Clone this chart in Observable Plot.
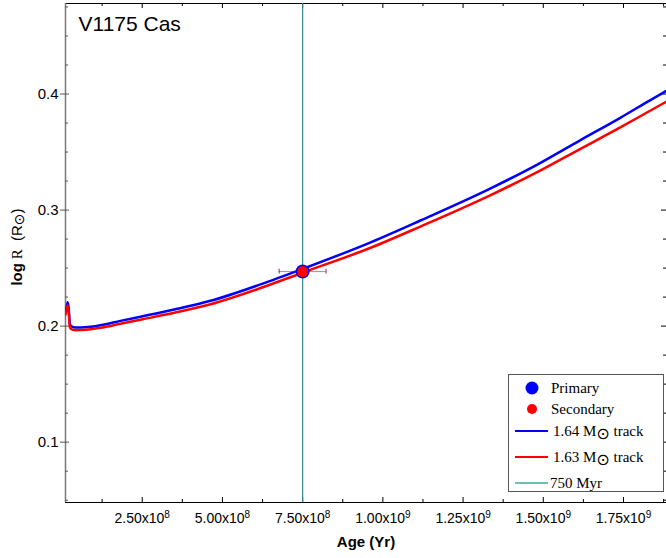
<!DOCTYPE html>
<html>
<head>
<meta charset="utf-8">
<script src="https://cdn.jsdelivr.net/npm/d3@7"></script>
<script src="https://cdn.jsdelivr.net/npm/@observablehq/plot@0.6"></script>
<style>
  body { margin: 0; background: white; }
  #wrap { position: relative; width: 666px; height: 558px; }
</style>
</head>
<body>
<div id="wrap"></div>
<script>
// ---- data ----
const ages = [1.1e7, 1.5e7, 1.8e7, 2.1e7, 2.4e7, 2.8e7, 4e7, 6e7, 9e7, 1.2e8, 1.82e8, 2.48e8, 3.5e8, 4.63e8, 6.19e8, 7.47e8, 9.62e8, 1.117e9, 1.336e9, 1.49e9, 1.616e9, 1.74e9, 1.834e9, 1.884e9];
const logR164 = [0.212, 0.217, 0.2205, 0.215, 0.203, 0.2, 0.1988, 0.1988, 0.1995, 0.2008, 0.2045, 0.2083, 0.2143, 0.2218, 0.236, 0.249, 0.2722, 0.291, 0.3187, 0.3405, 0.3603, 0.3795, 0.3948, 0.4027];
const logR163 = [0.210, 0.215, 0.218, 0.212, 0.200, 0.1975, 0.1965, 0.1966, 0.1973, 0.1985, 0.202, 0.2057, 0.2115, 0.2188, 0.2328, 0.2458, 0.2675, 0.2858, 0.3129, 0.334, 0.3528, 0.3712, 0.3858, 0.3935];
const starAge = [7.5e8, 7.5e8];
const starLogR = [0.247, 0.247];
const starNames = ["Primary", "Secondary"];
const ageErr = [7.3e7, 7.3e7];
const logRErr = [0.002, 0.002];
const isochroneAge = [7.5e8];
const xMajor = [2.5e8, 5e8, 7.5e8, 1e9, 1.25e9, 1.5e9, 1.75e9];
const xMinor = [1.25e8, 3.75e8, 6.25e8, 8.75e8, 1.125e9, 1.375e9, 1.625e9, 1.875e9];
const yMajor = [0.1, 0.2, 0.3, 0.4];
const yMinor = [0.05, 0.075, 0.125, 0.15, 0.175, 0.225, 0.25, 0.275, 0.325, 0.35, 0.375, 0.425, 0.45, 0.475];
const legendLabels = ["Primary", "Secondary", "1.64 M| track", "1.63 M| track", "750 Myr"];
const xDomain = [1.09e7, 1.884e9];
const yDomain = [0.048, 0.478];

const track164 = ages.map((a, i) => ({age: a, logR: logR164[i]}));
const track163 = ages.map((a, i) => ({age: a, logR: logR163[i]}));
const stars = starNames.map((n, i) => ({name: n, age: starAge[i], logR: starLogR[i], ea: ageErr[i], er: logRErr[i]}));
const primary = stars.filter(d => d.name === "Primary");
const secondary = stars.filter(d => d.name === "Secondary");

const W = 666, H = 558, mL = 65, mR = 0, mT = 3, mB = 56;
const iw = W - mL - mR, ih = H - mT - mB;
const SANS = "'Liberation Sans', Arial, Helvetica, sans-serif";

const fmtX = v => {
  const e = Math.floor(Math.log10(v) + 1e-9);
  return (v / 10 ** e).toFixed(2) + "x10^" + e;
};
const errColor = d => d.name === "Primary" ? "#0000ff" : "#ff0000";

const chart = Plot.plot({
  width: W, height: H,
  marginLeft: mL, marginRight: mR, marginTop: mT, marginBottom: mB,
  style: {fontFamily: SANS, fontSize: "15px", background: "white", color: "black"},
  x: {domain: xDomain},
  y: {domain: yDomain},
  marks: [
    Plot.frame({stroke: "black"}),
    Plot.ruleX([xDomain[0]], {stroke: "#7a7a7a", strokeWidth: 1.5}),
    // ticks (inward)
    Plot.ruleX(xMajor, {insetTop: ih - 5, stroke: "black"}),
    Plot.ruleX(xMinor, {insetTop: ih - 3, stroke: "black"}),
    Plot.ruleX(xMajor, {insetBottom: ih - 5, stroke: "black"}),
    Plot.ruleX(xMinor, {insetBottom: ih - 3, stroke: "black"}),
    Plot.ruleY(yMajor, {insetRight: iw - 4, stroke: "#555"}),
    Plot.ruleY(yMinor, {insetRight: iw - 3, stroke: "#555"}),
    Plot.ruleY(yMajor, {insetLeft: iw - 5, stroke: "black"}),
    Plot.ruleY(yMinor, {insetLeft: iw - 3, stroke: "black"}),
    Plot.axisY({ticks: yMajor, tickSize: 5, tickPadding: 2, tickFormat: d => d.toFixed(1), label: null, stroke: "#555"}),
    Plot.axisX({ticks: xMajor, tickSize: 0, tickPadding: 11, tickFormat: fmtX, label: null, fontSize: 14}),
    // isochrone
    Plot.ruleX(isochroneAge, {stroke: "#35898c", strokeWidth: 1.2}),
    // tracks
    Plot.line(track164, {x: "age", y: "logR", stroke: "#0000ff", strokeWidth: 2.5, curve: "monotone-x", clip: true}),
    Plot.line(track163, {x: "age", y: "logR", stroke: "#ff0000", strokeWidth: 2.5, curve: "monotone-x", clip: true}),
    // error bars
    Plot.ruleY(stars, {x1: d => d.age - d.ea, x2: d => d.age + d.ea, y: "logR", stroke: errColor, strokeOpacity: 0.3, strokeWidth: 1}),
    Plot.ruleX(stars, {x: d => d.age - d.ea, y1: d => d.logR - d.er, y2: d => d.logR + d.er, stroke: errColor, strokeOpacity: 0.35, strokeWidth: 1.5}),
    Plot.ruleX(stars, {x: d => d.age + d.ea, y1: d => d.logR - d.er, y2: d => d.logR + d.er, stroke: errColor, strokeOpacity: 0.35, strokeWidth: 1.5}),
    // stars
    Plot.dot(primary, {x: "age", y: "logR", r: 7, fill: "#0000ff", stroke: null}),
    Plot.dot(secondary, {x: "age", y: "logR", r: 5.5, fill: "#ff0000", stroke: null}),
    // title & x label
    Plot.text(["V1175 Cas"], {frameAnchor: "top-left", dx: 13, dy: 13, lineAnchor: "top", textAnchor: "start", fontSize: 21}),
    Plot.text(["Age (Yr)"], {frameAnchor: "bottom", dy: 44, fontWeight: "bold", fontSize: 15})
  ]
});

document.getElementById("wrap").appendChild(chart);
const svg = d3.select(chart);

// superscript exponents on x tick labels
svg.selectAll('g[aria-label="x-axis tick label"] text').each(function () {
  const t = this.textContent;
  const [m, e] = t.split("^");
  const sel = d3.select(this);
  sel.selectAll("*").remove();
  sel.text(null);
  sel.attr("font-family", SANS);
  sel.append("tspan").text(m);
  sel.append("tspan").attr("dy", "-0.55em").attr("font-size", "10px").text(e);
});

// y-axis label
const yl = svg.append("text")
  .attr("transform", "translate(22,247) rotate(-90)")
  .attr("text-anchor", "middle")
  .attr("font-size", 15)
  .attr("fill", "black");
yl.append("tspan").attr("font-weight", "bold").attr("font-family", SANS).text("log");
yl.append("tspan").attr("font-family", "'Liberation Serif', serif").text(" R");
yl.append("tspan").attr("font-family", SANS).text("  (R");
yl.append("tspan").attr("font-family", "'DejaVu Sans', sans-serif").attr("dy", 2).attr("font-size", 14).text("\u2299");
yl.append("tspan").attr("font-family", SANS).attr("dy", -2).text(")");

// legend
const lg = svg.append("g")
  .attr("font-family", "'Liberation Serif', 'Times New Roman', serif")
  .attr("font-size", 15)
  .attr("text-anchor", "start");
lg.append("rect").attr("x", 508.5).attr("y", 374.5).attr("width", 155).attr("height", 117).attr("fill", "white").attr("stroke", "#555");
const rowsY = [388, 409, 431, 457, 483];
const swatch = [
  {type: "dot", color: "#0000ff", r: 6.5},
  {type: "dot", color: "#ff0000", r: 5},
  {type: "line", color: "#0000ff"},
  {type: "line", color: "#ff0000"},
  {type: "line", color: "#6fbcbc"}
];
legendLabels.forEach((lab, i) => {
  const y = rowsY[i], s = swatch[i];
  if (s.type === "dot") lg.append("circle").attr("cx", 532).attr("cy", y).attr("r", s.r).attr("fill", s.color);
  else lg.append("line").attr("x1", 515).attr("x2", 548).attr("y1", y).attr("y2", y).attr("stroke", s.color).attr("stroke-width", 2);
  const t = lg.append("text").attr("x", i < 2 ? 551 : (i === 4 ? 550 : 553)).attr("y", y + 5).attr("fill", "black").attr("text-anchor", "start").attr("xml:space", "preserve");
  if (lab.includes("|")) {
    const [a, b] = lab.split("|");
    t.append("tspan").text(a);
    t.append("tspan").attr("font-family", "'DejaVu Sans', sans-serif").attr("dy", 3).attr("font-size", 16).text("\u2299");
    t.append("tspan").attr("dy", -3).text(b);
  } else t.text(lab);
});
</script>
</body>
</html>
